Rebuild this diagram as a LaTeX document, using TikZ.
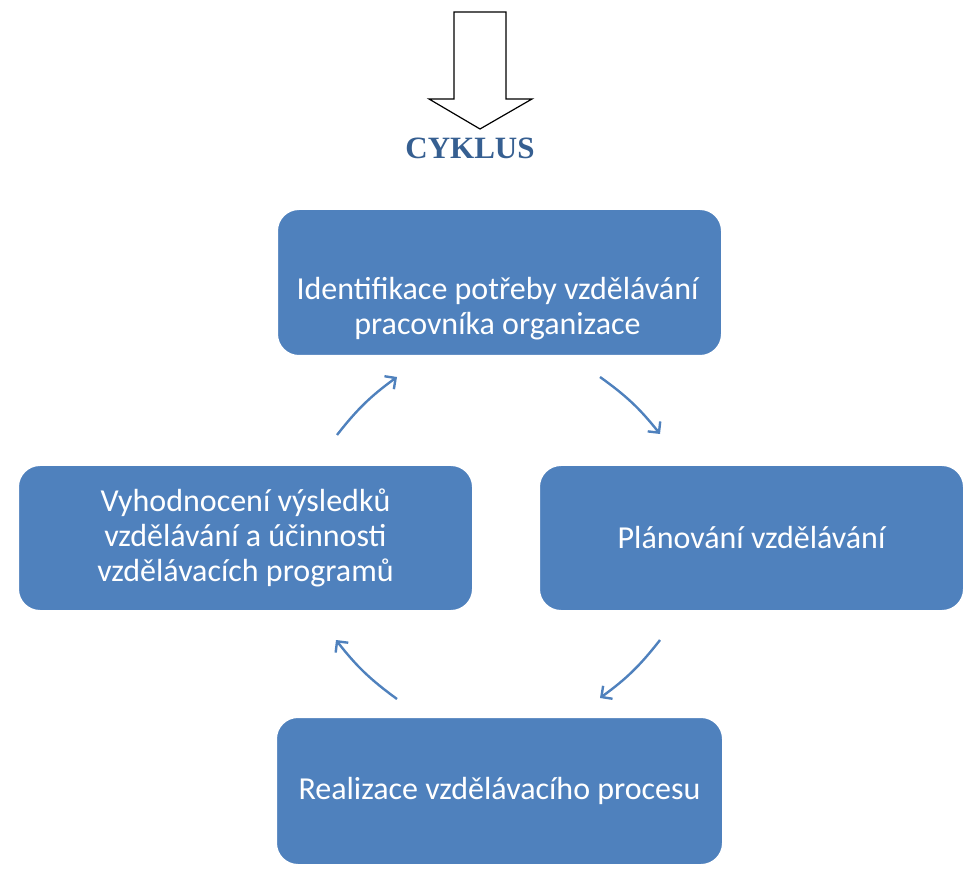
\documentclass[tikz,border=0pt]{standalone}
\usepackage{fontspec}
\setmainfont{Carlito}
\newfontfamily\titlefont{Liberation Serif}
\usepackage{xcolor}
\usetikzlibrary{arrows.meta}
\usetikzlibrary{positioning}
\usetikzlibrary{calc}

\definecolor{boxblue}{RGB}{79,129,189}
\definecolor{titleblue}{RGB}{54,95,145}

\tikzset{
  krok/.style={rectangle, rounded corners=22pt, fill=boxblue, draw=white, line width=2pt,
    text=white, font=\fontsize{32}{35}\selectfont, align=center, inner sep=0pt},
  sipka/.style={draw=boxblue, line width=2.4pt, -{Straight Barb[length=8pt,width=16pt]}, bend left=8},
}

\begin{document}
\begin{tikzpicture}[x=1pt,y=1pt]
			\useasboundingbox (0,0) rectangle (965,868);

			% vstupni sipka a nadpis
			\draw[line width=1.2pt, fill=white] (454,856) -- (506,856) -- (506,769) -- (532,769)
				-- (480,739) -- (429,769) -- (454,769) -- cycle;
			\node[font=\titlefont\bfseries\fontsize{31}{36}\selectfont, text=titleblue] (cyklus) at (470,720) {CYKLUS};

			% kroky cyklu
			\node[krok, minimum width=445, minimum height=147] (ident) at (499.5,585.5) {};
			\node[text=white, font=\fontsize{32}{35}\selectfont, align=center] (identtext) at ($(ident)+(-2,-26)$)
				{Identifikace potřeby vzdělávání\\pracovníka organizace};
			\node[krok, minimum width=425, minimum height=146] (plan) at (751.5,330) {Plánování vzdělávání};
			\node[krok, minimum width=447, minimum height=148] (real) at (499.5,77) {Realizace vzdělávacího procesu};
			\node[krok, minimum width=455, minimum height=146] (eval) at (245.5,330)
				{Vyhodnocení výsledků\\vzdělávání a účinnosti\\vzdělávacích programů};

			% sipky mezi kroky
			\coordinate (e1) at ($(eval.north)+(91.5,29)$);
			\coordinate (i1) at ($(ident.south)+(-102.5,-20)$);
			\coordinate (i2) at ($(ident.south)+(100.5,-20)$);
			\coordinate (p1) at ($(plan.north)+(-91.5,30)$);
			\coordinate (p2) at ($(plan.south)+(-91.5,-28)$);
			\coordinate (r1) at ($(real.north)+(100.5,18)$);
			\coordinate (r2) at ($(real.north)+(-102.5,17)$);
			\coordinate (e2) at ($(eval.south)+(90.5,-28)$);
			\draw[sipka] (e1) to (i1);
			\draw[sipka] (i2) to (p1);
			\draw[sipka] (p2) to (r1);
			\draw[sipka] (r2) to (e2);
		\end{tikzpicture}
\end{document}
